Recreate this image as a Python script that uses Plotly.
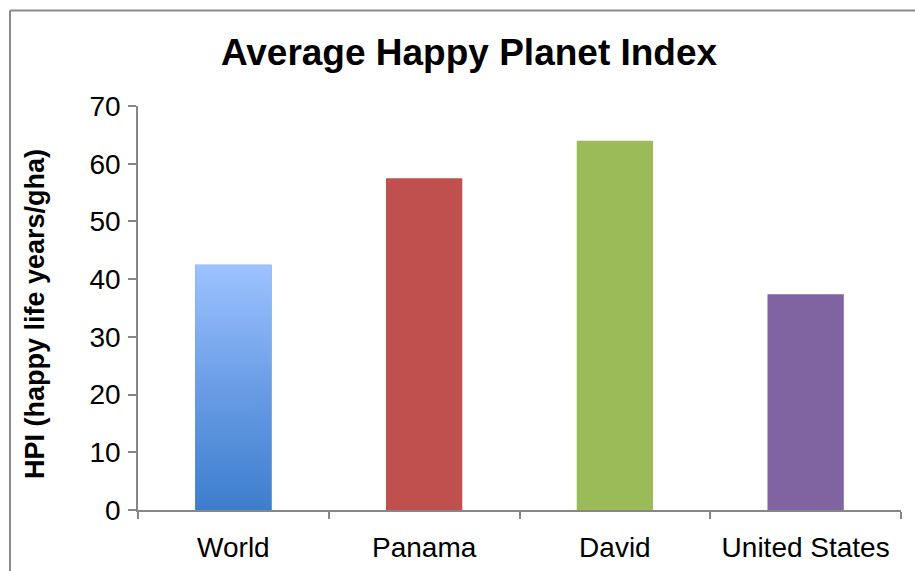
import plotly.graph_objects as go

# Average Happy Planet Index by region
categories = ["World", "Panama", "David", "United States"]
hpi_values = [42.5, 57.5, 64.0, 37.4]
bar_colors = ["#3F80CD", "#C0504D", "#9BBB59", "#8064A2"]
y_ticks = [0, 10, 20, 30, 40, 50, 60, 70]

BAR_WIDTH = 0.4
W, H = 915, 571
ML, MR, MT, MB = 138, 14, 106, 61
plot_w = W - ML - MR
plot_h = H - MT - MB

positions = list(range(len(categories)))

fig = go.Figure()

fig.add_trace(go.Bar(
    x=positions,
    y=hpi_values,
    width=BAR_WIDTH,
    marker=dict(color=bar_colors, line=dict(width=0)),
    hoverinfo="skip",
))

# Vertical gradient fill for the "World" bar (dark blue bottom -> light blue top)
xi = positions[0]
vi = hpi_values[0]
half = BAR_WIDTH / 2
fig.add_trace(go.Scatter(
    x=[xi - half, xi + half, xi + half, xi - half, xi - half],
    y=[0, 0, vi, vi, 0],
    mode="lines",
    line=dict(width=0),
    fill="toself",
    fillgradient=dict(
        type="vertical",
        colorscale=[[0, "#3D7ECC"], [0.5, "#6A9DE6"], [1, "#9DC3FF"]],
    ),
    hoverinfo="skip",
    showlegend=False,
))

axis_color = "#868686"
font_family = "Liberation Sans, Arial, sans-serif"

fig.update_layout(
    width=W,
    height=H,
    margin=dict(l=ML, r=MR, t=MT, b=MB, autoexpand=False),
    paper_bgcolor="white",
    plot_bgcolor="white",
    showlegend=False,
    font=dict(family=font_family, color="black", size=28),
    title=dict(
        text="<b>Average Happy Planet Index</b>",
        x=469 / W,
        xref="container",
        xanchor="center",
        y=1 - 52 / H,
        yref="container",
        yanchor="middle",
        font=dict(family=font_family, size=37, color="black"),
    ),
    xaxis=dict(
        range=[-0.5, len(categories) - 0.5],
        tickmode="array",
        tickvals=positions,
        ticktext=categories,
        ticks="",
        showgrid=False,
        zeroline=False,
        showline=True,
        linecolor=axis_color,
        linewidth=1.5,
        tickfont=dict(size=28),
        ticklabelstandoff=12,
        automargin=False,
        minor=dict(
            tickmode="array",
            tickvals=[p - 0.5 for p in positions] + [positions[-1] + 0.5],
            ticks="outside",
            ticklen=7,
            tickwidth=1.5,
            tickcolor=axis_color,
            showgrid=False,
        ),
        fixedrange=True,
    ),
    yaxis=dict(
        range=[0, 70],
        tickmode="array",
        tickvals=y_ticks,
        ticks="outside",
        ticklen=8,
        tickwidth=1.5,
        tickcolor=axis_color,
        showgrid=False,
        zeroline=False,
        showline=True,
        linecolor=axis_color,
        linewidth=1.5,
        tickfont=dict(size=28),
        ticklabelstandoff=2,
        automargin=False,
        fixedrange=True,
    ),
    annotations=[dict(
        text="<b>HPI (happy life years/gha)</b>",
        textangle=-90,
        xref="paper",
        yref="paper",
        x=(35 - ML) / plot_w,
        y=(H - MB - 314) / plot_h,
        xanchor="center",
        yanchor="middle",
        showarrow=False,
        font=dict(family=font_family, size=27, color="black"),
    )],
)

# Chart-area frame (left and top edges)
frame_left = (10 - ML) / plot_w
frame_top = (H - MB - 10.5) / plot_h
frame_color = "#8A8A8A"
fig.add_shape(type="line", xref="paper", yref="paper",
              x0=frame_left, x1=frame_left, y0=-0.5, y1=frame_top,
              line=dict(color=frame_color, width=2))
fig.add_shape(type="line", xref="paper", yref="paper",
              x0=frame_left, x1=1.5, y0=frame_top, y1=frame_top,
              line=dict(color=frame_color, width=2))

fig.write_html("out.html")
